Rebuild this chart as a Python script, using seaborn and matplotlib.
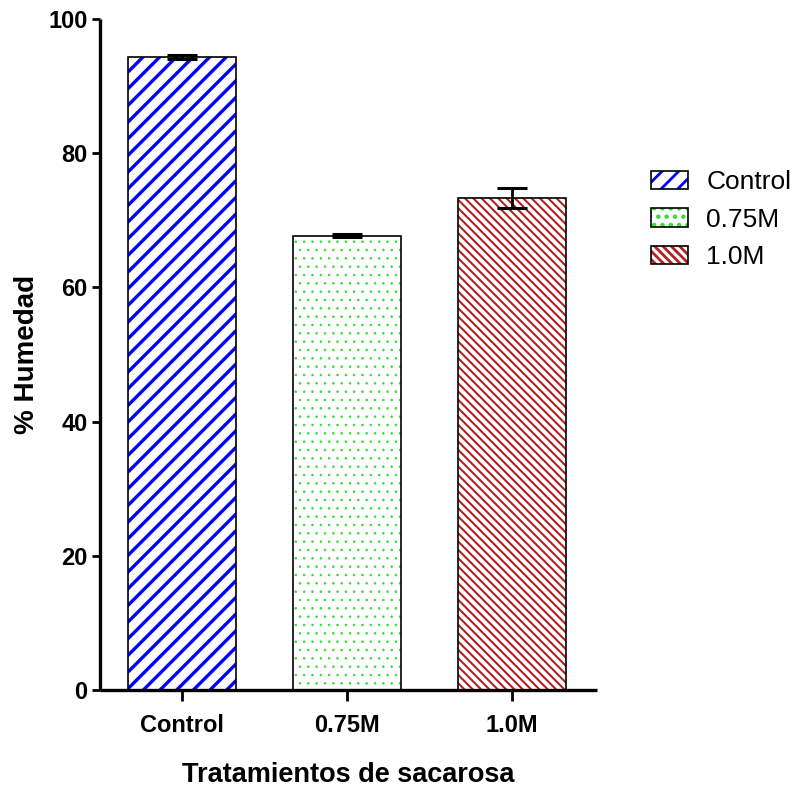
import numpy as np
import pandas as pd
import matplotlib
matplotlib.use("Agg")
import matplotlib.pyplot as plt
import matplotlib.patches as mpatches
from matplotlib.legend_handler import HandlerTuple
import seaborn as sns

categories = ["Control", "0.75M", "1.0M"]
means = [94.4, 67.7, 73.3]
errors = [0.3, 0.2, 1.45]
hatch_colors = ["#0000ff", "#33dd33", "#b22222"]
hatches = ["//", "..", "\\\\\\\\"]
hatch_lws = [2.4, 0.6, 1.5]
ylabel = "% Humedad"
xlabel = "Tratamientos de sacarosa"
yticks = [0, 20, 40, 60, 80, 100]

sns.set_style("ticks")
plt.rcParams["font.family"] = ["Liberation Sans", "DejaVu Sans"]
plt.rcParams["hatch.linewidth"] = 2.0
for key in ["text.color", "axes.labelcolor", "xtick.color", "ytick.color",
            "axes.edgecolor"]:
    plt.rcParams[key] = "black"

fig = plt.figure(figsize=(7.96, 7.88), dpi=100)
ax = fig.add_axes([100 / 796, 1 - 690 / 788, 497 / 796, 671 / 788])

df = pd.DataFrame({"Tratamiento": categories, "Humedad": means})

sns.barplot(data=df, x="Tratamiento", y="Humedad", order=categories,
            width=0.66, color="white", linewidth=0, errorbar=None, ax=ax)
n = len(ax.patches)
for p, c, h, lw in zip(ax.patches, hatch_colors, hatches, hatch_lws):
    p.set_facecolor("white")
    p.set_hatch(h)
    p.set_edgecolor(c)
    p.set_linewidth(0)
    if hasattr(p, "set_hatch_linewidth"):
        p.set_hatch_linewidth(lw)

sns.barplot(data=df, x="Tratamiento", y="Humedad", order=categories,
            width=0.66, color="white", errorbar=None, ax=ax)
for p in ax.patches[n:]:
    p.set_facecolor("none")
    p.set_edgecolor("black")
    p.set_linewidth(1.2)

ax.errorbar(np.arange(len(categories)), means, yerr=errors, fmt="none",
            ecolor="black", elinewidth=2, capsize=10.5, capthick=2.2, zorder=5)

ax.set_ylim(0, 100)
ax.set_xlim(-0.497, 2.515)
ax.set_yticks(yticks)
ax.set_yticklabels([str(v) for v in yticks], fontsize=17, fontweight="bold")
ax.set_xticks(np.arange(len(categories)))
ax.set_xticklabels(categories, fontsize=17, fontweight="bold")
ax.tick_params(axis="y", length=6, width=2, pad=3, direction="out",
               colors="black")
ax.tick_params(axis="x", length=8, width=2, pad=9, direction="out",
               colors="black")
ax.set_ylabel(ylabel, fontsize=20, fontweight="bold", color="black")
ax.set_xlabel(xlabel, fontsize=19.5, fontweight="bold", color="black")
ax.yaxis.set_label_coords(-0.12, 0.5)
ax.xaxis.set_label_coords(0.5, -0.108)
for s in ["top", "right"]:
    ax.spines[s].set_visible(False)
for s in ["left", "bottom"]:
    ax.spines[s].set_linewidth(2.4)
    ax.spines[s].set_color("black")
    ax.spines[s].set_capstyle("butt")

handles = []
for c, h, lw in zip(hatch_colors, hatches, hatch_lws):
    hp = mpatches.Patch(facecolor="white", edgecolor=c, linewidth=0, hatch=h)
    if hasattr(hp, "set_hatch_linewidth"):
        hp.set_hatch_linewidth(lw)
    bp = mpatches.Patch(facecolor="none", edgecolor="black", linewidth=1.2)
    handles.append((hp, bp))
leg = fig.legend(handles, categories, loc="upper left",
                 bbox_to_anchor=(651 / 796, 1 - 170 / 788),
                 handler_map={tuple: HandlerTuple(ndivide=1, pad=0)},
                 frameon=False, prop={"size": 19}, borderpad=0,
                 borderaxespad=0, handlelength=1.4, handleheight=0.7,
                 handletextpad=0.7, labelspacing=0.52)
for t in leg.get_texts():
    t.set_color("black")

fig.savefig("out.png", dpi=100)
